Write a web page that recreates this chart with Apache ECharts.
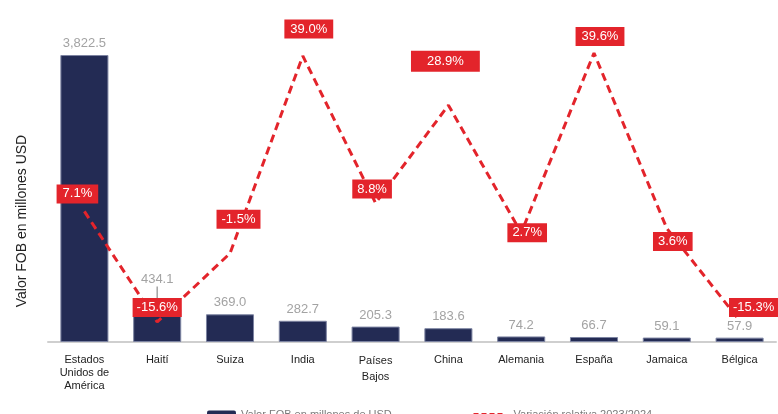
<!DOCTYPE html>
<html><head><meta charset="utf-8">
<script src="https://cdn.jsdelivr.net/npm/echarts@6/dist/echarts.min.js"></script>
<style>html,body{margin:0;padding:0;background:#fff}#c{width:778px;height:414px}</style>
</head><body><div id="c"></div>
<script>
const categories = ['Estados\nUnidos de\nAmérica','Haití','Suiza','India','Países\nBajos','China','Alemania','España','Jamaica','Bélgica'];
const fobValues = [3822.5,434.1,369.0,282.7,205.3,183.6,74.2,66.7,59.1,57.9];
const variation = [7.1,-15.6,-1.5,39.0,8.8,28.9,2.7,39.6,3.6,-15.3];
const barName = 'Valor FOB en millones de USD';
const lineName = 'Variación relativa 2023/2024';
const yTitle = 'Valor FOB en millones USD';

// label placement (styling only)
const varLabelOffsets = [[-7,-17.5],[0,-14.5],[8.5,-34],[6,-27],[-3.5,-14],[-3,-44],[6,0],[6,-16.5],[6,13],[14,-13]];
const varLabelPadding = [[3,6],[3,4],[3,5],[3,6],[3,5],[4,16],[3,5],[3,6],[3,5],[3,4]];
const raisedBarLabel = 1; // index of bar whose value label is lifted with a leader line

const RED = '#E3242B';
const NAVY = '#232B54';
const FONT = '"Liberation Sans", Arial, sans-serif';

const chart = echarts.init(document.getElementById('c'), null, {renderer:'canvas'});

const catData = categories.map(c => c.indexOf('Países') === 0 ? {value:c, textStyle:{lineHeight:16}} : c);

const barData = fobValues.map((v,i) => i === raisedBarLabel
  ? {value: v, labelLine: {show: true, lineStyle: {color:'#a3a3a3', width: 1.5}}}
  : v);

const lineData = variation.map((v,i) => ({
  value: v,
  label: {offset: varLabelOffsets[i], padding: varLabelPadding[i]}
}));

chart.setOption({
  animation: false,
  textStyle: {fontFamily: FONT},
  grid: {left: 48, right: 2, top: 42, bottom: 72, containLabel: false},
  legend: [
    {data:[barName], left: 202, top: 404, itemWidth: 29, itemHeight: 8, itemGap: 5,
     itemStyle: {borderWidth: 0},
     textStyle:{color:'#7a7a7a', fontSize: 11, fontFamily: FONT}, selectedMode:false},
    {data:[lineName],
     left: 467, top: 404, itemWidth: 30, itemHeight: 8, itemGap: 10,
     itemStyle: {opacity: 0},
     lineStyle: {color: RED, width: 3, type: [5,3], cap: 'butt', opacity: 1},
     textStyle:{color:'#7a7a7a', fontSize: 11, fontFamily: FONT, padding: [0,0,0,5]}, selectedMode:false}
  ],
  graphic: [{
    type: 'text', x: 22, y: 221, rotation: Math.PI/2,
    style: {text: yTitle, fill:'#222', font: '14px ' + FONT, textAlign:'center', textVerticalAlign:'middle'}
  }],
  xAxis: {
    type: 'category', data: catData,
    axisLine: {show:true, lineStyle:{color:'#cfcfcf', width:2}},
    axisTick: {show:false},
    axisLabel: {color:'#222', fontSize: 11, lineHeight: 13, margin: 11, interval: 0, fontFamily: FONT}
  },
  yAxis: [
    {type:'value', min:0, max:3996, show:false, splitLine:{show:false}},
    {type:'value', min:-19.7, max:41.86, show:false, splitLine:{show:false}}
  ],
  series: [
    {
      name: barName, type: 'bar', yAxisIndex: 0, data: barData,
      barCategoryGap: '34%',
      itemStyle: {color: NAVY, borderColor:'#7d84a2', borderWidth: 1},
      label: {
        show: true, position: 'top', distance: 5, color: '#a3a3a3', fontSize: 13, fontFamily: FONT,
        formatter: p => p.value.toLocaleString('en-US', {minimumFractionDigits:1, maximumFractionDigits:1})
      },
      labelLine: {show: false},
      labelLayout: p => p.dataIndex === raisedBarLabel ? {dy: -18} : {},
      z: 1
    },
    {
      name: lineName, type: 'line', yAxisIndex: 1, data: lineData,
      symbol: 'circle', symbolSize: 0, showSymbol: true,
      lineStyle: {color: RED, width: 3, type: [8,5], cap: 'butt'},
      itemStyle: {color: RED},
      label: {
        show: true, position: 'inside', color: '#fff', backgroundColor: RED,
        fontSize: 13, fontFamily: FONT,
        formatter: p => p.value.toFixed(1) + '%'
      },
      z: 3
    }
  ]
});
</script>
</body></html>
